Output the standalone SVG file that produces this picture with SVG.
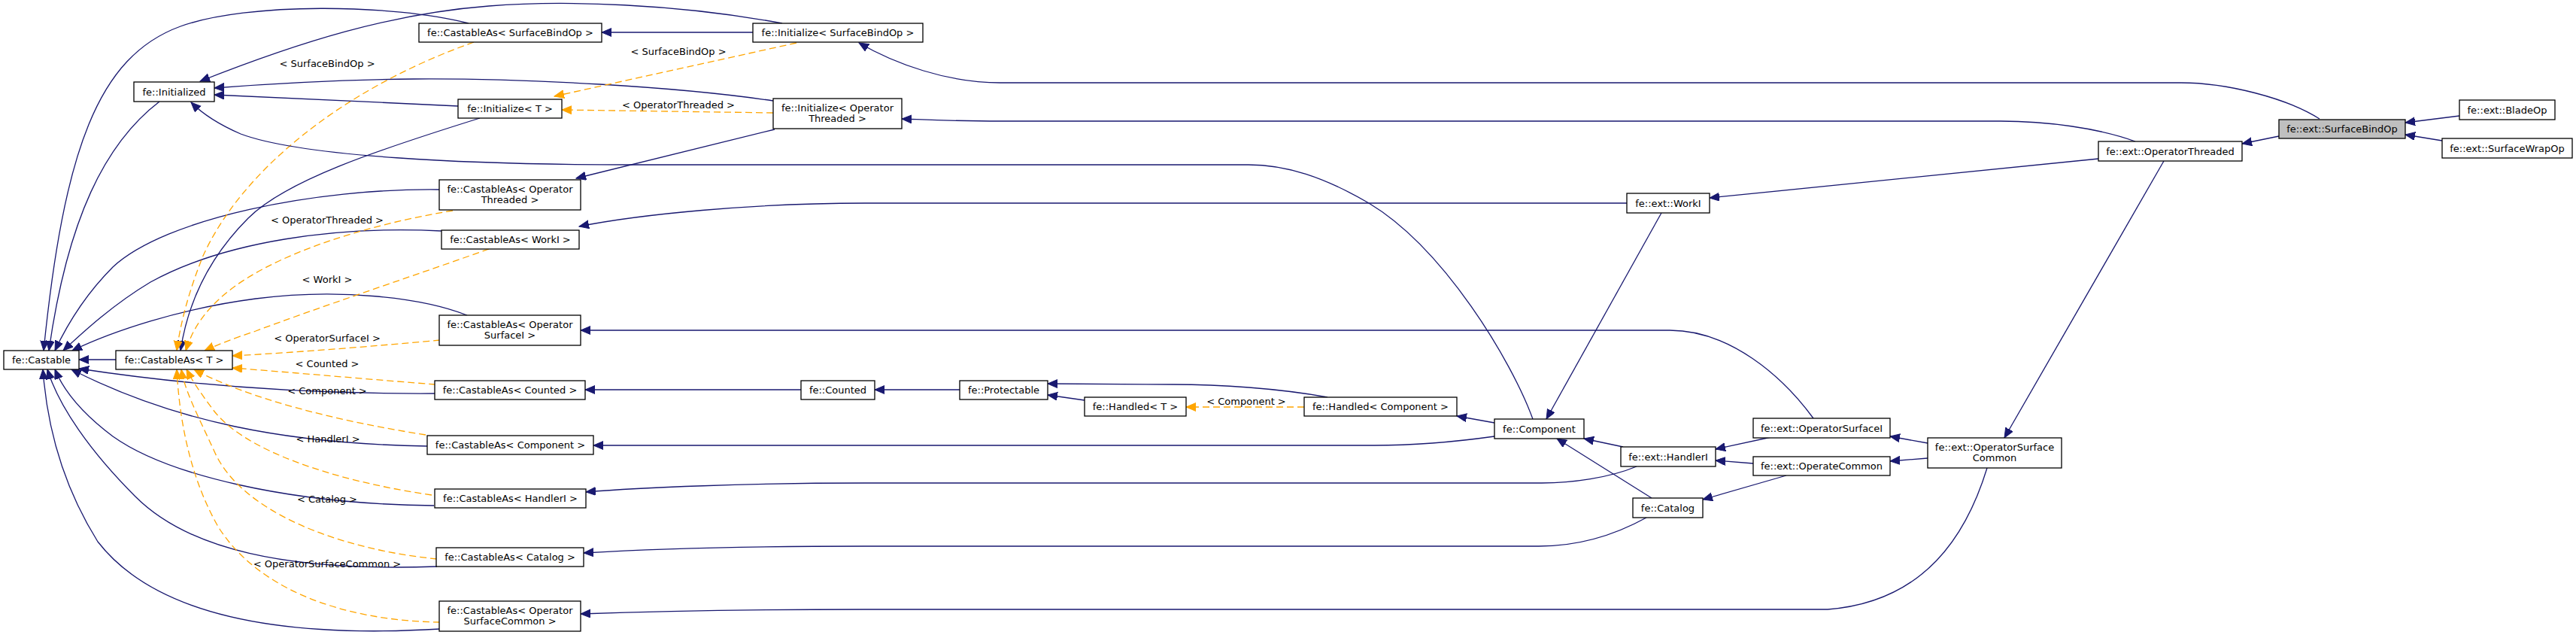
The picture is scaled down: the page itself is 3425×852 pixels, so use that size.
<svg xmlns="http://www.w3.org/2000/svg" width="3425" height="852" viewBox="0 0 3425 852">
<defs>
<style>
.n rect{fill:#fff;stroke:#000;stroke-width:1.3}
.n.g rect{fill:#bfbfbf}
text{font-family:"DejaVu Sans","Liberation Sans",sans-serif;font-size:13px;fill:#000;text-anchor:middle}
.e{fill:none;stroke:#191970;stroke-width:1.3;marker-end:url(#an)}
.d{fill:none;stroke:#ffa500;stroke-width:1.3;stroke-dasharray:9,5;marker-end:url(#ao)}
</style>
<marker id="an" markerWidth="15" markerHeight="12" refX="13" refY="5.5" orient="auto" markerUnits="userSpaceOnUse"><path d="M0,0 L13,5.5 L0,11 z" fill="#191970" stroke="#191970" stroke-width="1"/></marker>
<marker id="ao" markerWidth="15" markerHeight="12" refX="13" refY="5.5" orient="auto" markerUnits="userSpaceOnUse"><path d="M0,0 L13,5.5 L0,11 z" fill="#ffa500" stroke="#ffa500" stroke-width="1"/></marker>
</defs>
<rect width="3425" height="852" fill="#fff"/>
<g id="edges">
<!-- to Castable -->
<path class="e" d="M154,478 L105,478"/>
<path class="e" d="M623,31 C520,5 330,3 240,35 C130,75 85,200 58,466"/>
<path class="e" d="M212,135 C140,190 90,290 65,466"/>
<path class="e" d="M584,252 C420,250 220,290 150,355 C115,390 90,430 73,466"/>
<path class="e" d="M587,307 C450,300 300,320 200,375 C150,405 112,440 84,466"/>
<path class="e" d="M621,419 C560,395 450,383 340,397 C240,410 150,440 96,466"/>
<path class="e" d="M578,523 C400,524 250,512 105,490"/>
<path class="e" d="M568,593 C380,590 230,560 95,491"/>
<path class="e" d="M577,672 C380,670 220,630 150,580 C110,550 85,520 73,491"/>
<path class="e" d="M581,753 C380,760 250,730 180,660 C120,600 78,540 63,491"/>
<path class="e" d="M585,836 C350,850 200,810 130,720 C80,640 62,560 57,491"/>
<!-- to CastableAs<T> -->
<path class="e" d="M638,157 C500,200 380,240 330,290 C280,340 250,400 240,466"/>
<path class="d" d="M630,56 C450,120 320,230 270,340 C250,390 240,430 235,466"/>
<path class="d" d="M602,280 C480,300 360,340 300,390 C270,415 255,440 247,466"/>
<path class="d" d="M650,331 C540,370 420,410 340,440 C310,450 290,458 272,466"/>
<path class="d" d="M585,452 C500,460 400,468 309,473"/>
<path class="d" d="M579,511 C500,505 400,496 309,489"/>
<path class="d" d="M566,578 C450,560 330,530 258,491"/>
<path class="d" d="M574,658 C450,640 320,600 280,540 C265,520 255,505 248,491"/>
<path class="d" d="M581,743 C450,730 320,680 285,600 C262,550 246,520 241,491"/>
<path class="d" d="M585,827 C450,825 340,780 290,700 C250,630 238,550 235,491"/>
<!-- to Initialized -->
<path class="e" d="M1040,31 C900,5 750,0 650,8 C520,18 400,55 266,108"/>
<path class="e" d="M1028,134 C900,115 700,104 550,105 C450,106 350,112 285,117"/>
<path class="e" d="M609,141 C500,136 380,130 285,126"/>
<path class="e" d="M2038,557 C2010,480 1920,330 1820,270 C1760,235 1710,219 1660,219 L840,219 C620,219 400,208 320,178 C290,165 270,152 254,136"/>
<!-- Initialize / CastableAs templates -->
<path class="e" d="M1001,43 L800,43"/>
<path class="e" d="M1030,172 L766,237"/>
<path class="d" d="M1059,57 L737,128"/>
<path class="d" d="M1028,150 L747,146"/>
<path class="e" d="M3084,158 C3040,130 2960,110 2900,110 L1330,110 C1260,110 1190,85 1142,57"/>
<path class="e" d="M2839,188 C2790,170 2720,161 2660,161 L1330,161 C1270,161 1230,159 1199,158"/>
<!-- middle -->
<path class="e" d="M2163,270 L1150,270 C1000,270 850,285 770,301"/>
<path class="e" d="M2790,211 L2273,263"/>
<path class="e" d="M2209,283 L2056,557"/>
<path class="e" d="M1987,562 L1937,553"/>
<path class="e" d="M1987,580 C1930,588 1880,592 1827,592 L789,592"/>
<path class="e" d="M1765,528 C1700,516 1620,511 1560,511 L1393,510"/>
<path class="d" d="M1734,541 L1577,541"/>
<path class="e" d="M1442,532 L1393,525"/>
<path class="e" d="M1276,518 L1163,518"/>
<path class="e" d="M1065,518 L778,518"/>
<path class="e" d="M2411,556 C2370,500 2300,439 2220,439 L772,439"/>
<path class="e" d="M2176,620 C2140,635 2090,642 2050,642 L1150,642 C1000,642 850,648 779,654"/>
<path class="e" d="M2189,688 C2140,715 2090,726 2046,726 L1150,726 C1000,726 860,730 776,735"/>
<path class="e" d="M2642,622 C2615,710 2560,800 2430,810 L1150,810 C1000,810 860,813 772,816"/>
<path class="e" d="M2158,594 L2106,583"/>
<path class="e" d="M2196,662 L2070,583"/>
<path class="e" d="M2355,581 L2281,597"/>
<path class="e" d="M2331,616 L2281,612"/>
<path class="e" d="M2375,632 L2264,664"/>
<path class="e" d="M2563,589 L2513,580"/>
<path class="e" d="M2563,609 L2513,613"/>
<path class="e" d="M2877,214 L2665,582"/>
<path class="e" d="M3030,181 L2981,191"/>
<path class="e" d="M3270,154 L3198,163"/>
<path class="e" d="M3247,187 L3198,179"/>
<!-- labels -->
<text x="435" y="89">&lt; SurfaceBindOp &gt;</text>
<text x="435" y="297">&lt; OperatorThreaded &gt;</text>
<text x="435" y="376">&lt; WorkI &gt;</text>
<text x="435" y="454">&lt; OperatorSurfaceI &gt;</text>
<text x="435" y="488">&lt; Counted &gt;</text>
<text x="435" y="524">&lt; Component &gt;</text>
<text x="436" y="588">&lt; HandlerI &gt;</text>
<text x="435" y="668">&lt; Catalog &gt;</text>
<text x="435" y="754">&lt; OperatorSurfaceCommon &gt;</text>
<text x="902" y="73">&lt; SurfaceBindOp &gt;</text>
<text x="902" y="144">&lt; OperatorThreaded &gt;</text>
<text x="1657" y="538">&lt; Component &gt;</text>
</g>
<g id="n1" class="n"><rect x="178" y="109" width="107" height="26"/><text x="231.5" y="126.5">fe::Initialized</text></g>
<g id="n2" class="n"><rect x="5" y="466" width="100" height="25"/><text x="55" y="483">fe::Castable</text></g>
<g id="n3" class="n"><rect x="154" y="466" width="155" height="25"/><text x="231.5" y="483">fe::CastableAs&lt; T &gt;</text></g>
<g id="n4" class="n"><rect x="557" y="31" width="243" height="25"/><text x="678.5" y="48">fe::CastableAs&lt; SurfaceBindOp &gt;</text></g>
<g id="n5" class="n"><rect x="1001" y="31" width="226" height="25"/><text x="1114" y="48">fe::Initialize&lt; SurfaceBindOp &gt;</text></g>
<g id="n6" class="n"><rect x="609" y="132" width="138" height="25"/><text x="678" y="149">fe::Initialize&lt; T &gt;</text></g>
<g id="n7" class="n"><rect x="1028" y="131" width="171" height="40"/><text x="1113.5" y="148">fe::Initialize&lt; Operator</text><text x="1113.5" y="162">Threaded &gt;</text></g>
<g id="n8" class="n"><rect x="584" y="239" width="188" height="40"/><text x="678" y="256">fe::CastableAs&lt; Operator</text><text x="678" y="270">Threaded &gt;</text></g>
<g id="n9" class="n"><rect x="587" y="306" width="183" height="25"/><text x="678.5" y="323">fe::CastableAs&lt; WorkI &gt;</text></g>
<g id="n10" class="n"><rect x="584" y="419" width="188" height="40"/><text x="678" y="436">fe::CastableAs&lt; Operator</text><text x="678" y="450">SurfaceI &gt;</text></g>
<g id="n11" class="n"><rect x="578" y="506" width="200" height="25"/><text x="678" y="523">fe::CastableAs&lt; Counted &gt;</text></g>
<g id="n12" class="n"><rect x="568" y="579" width="221" height="25"/><text x="678.5" y="596">fe::CastableAs&lt; Component &gt;</text></g>
<g id="n13" class="n"><rect x="578" y="650" width="201" height="25"/><text x="678.5" y="667">fe::CastableAs&lt; HandlerI &gt;</text></g>
<g id="n14" class="n"><rect x="580" y="728" width="196" height="25"/><text x="678" y="745">fe::CastableAs&lt; Catalog &gt;</text></g>
<g id="n15" class="n"><rect x="584" y="799" width="188" height="40"/><text x="678" y="816">fe::CastableAs&lt; Operator</text><text x="678" y="830">SurfaceCommon &gt;</text></g>
<g id="n16" class="n"><rect x="1065" y="506" width="98" height="25"/><text x="1114" y="523">fe::Counted</text></g>
<g id="n17" class="n"><rect x="1276" y="506" width="117" height="25"/><text x="1334.5" y="523">fe::Protectable</text></g>
<g id="n18" class="n"><rect x="1442" y="528" width="135" height="25"/><text x="1509.5" y="545">fe::Handled&lt; T &gt;</text></g>
<g id="n19" class="n"><rect x="1734" y="528" width="203" height="25"/><text x="1835.5" y="545">fe::Handled&lt; Component &gt;</text></g>
<g id="n20" class="n"><rect x="1987" y="557" width="119" height="26"/><text x="2046.5" y="574.5">fe::Component</text></g>
<g id="n21" class="n"><rect x="2163" y="257" width="110" height="26"/><text x="2218" y="274.5">fe::ext::WorkI</text></g>
<g id="n22" class="n"><rect x="2155" y="594" width="126" height="26"/><text x="2218" y="611.5">fe::ext::HandlerI</text></g>
<g id="n23" class="n"><rect x="2171" y="662" width="93" height="26"/><text x="2217.5" y="679.5">fe::Catalog</text></g>
<g id="n24" class="n"><rect x="2331" y="556" width="182" height="26"/><text x="2422" y="573.5">fe::ext::OperatorSurfaceI</text></g>
<g id="n25" class="n"><rect x="2331" y="607" width="182" height="25"/><text x="2422" y="624">fe::ext::OperateCommon</text></g>
<g id="n26" class="n"><rect x="2563" y="582" width="178" height="40"/><text x="2652" y="599">fe::ext::OperatorSurface</text><text x="2652" y="613">Common</text></g>
<g id="n27" class="n"><rect x="2790" y="188" width="191" height="26"/><text x="2885.5" y="205.5">fe::ext::OperatorThreaded</text></g>
<g id="n28" class="n g"><rect x="3030" y="159" width="168" height="25"/><text x="3114" y="176">fe::ext::SurfaceBindOp</text></g>
<g id="n29" class="n"><rect x="3270" y="133" width="127" height="26"/><text x="3333.5" y="150.5">fe::ext::BladeOp</text></g>
<g id="n30" class="n"><rect x="3247" y="184" width="173" height="26"/><text x="3333.5" y="201.5">fe::ext::SurfaceWrapOp</text></g>
</svg>
